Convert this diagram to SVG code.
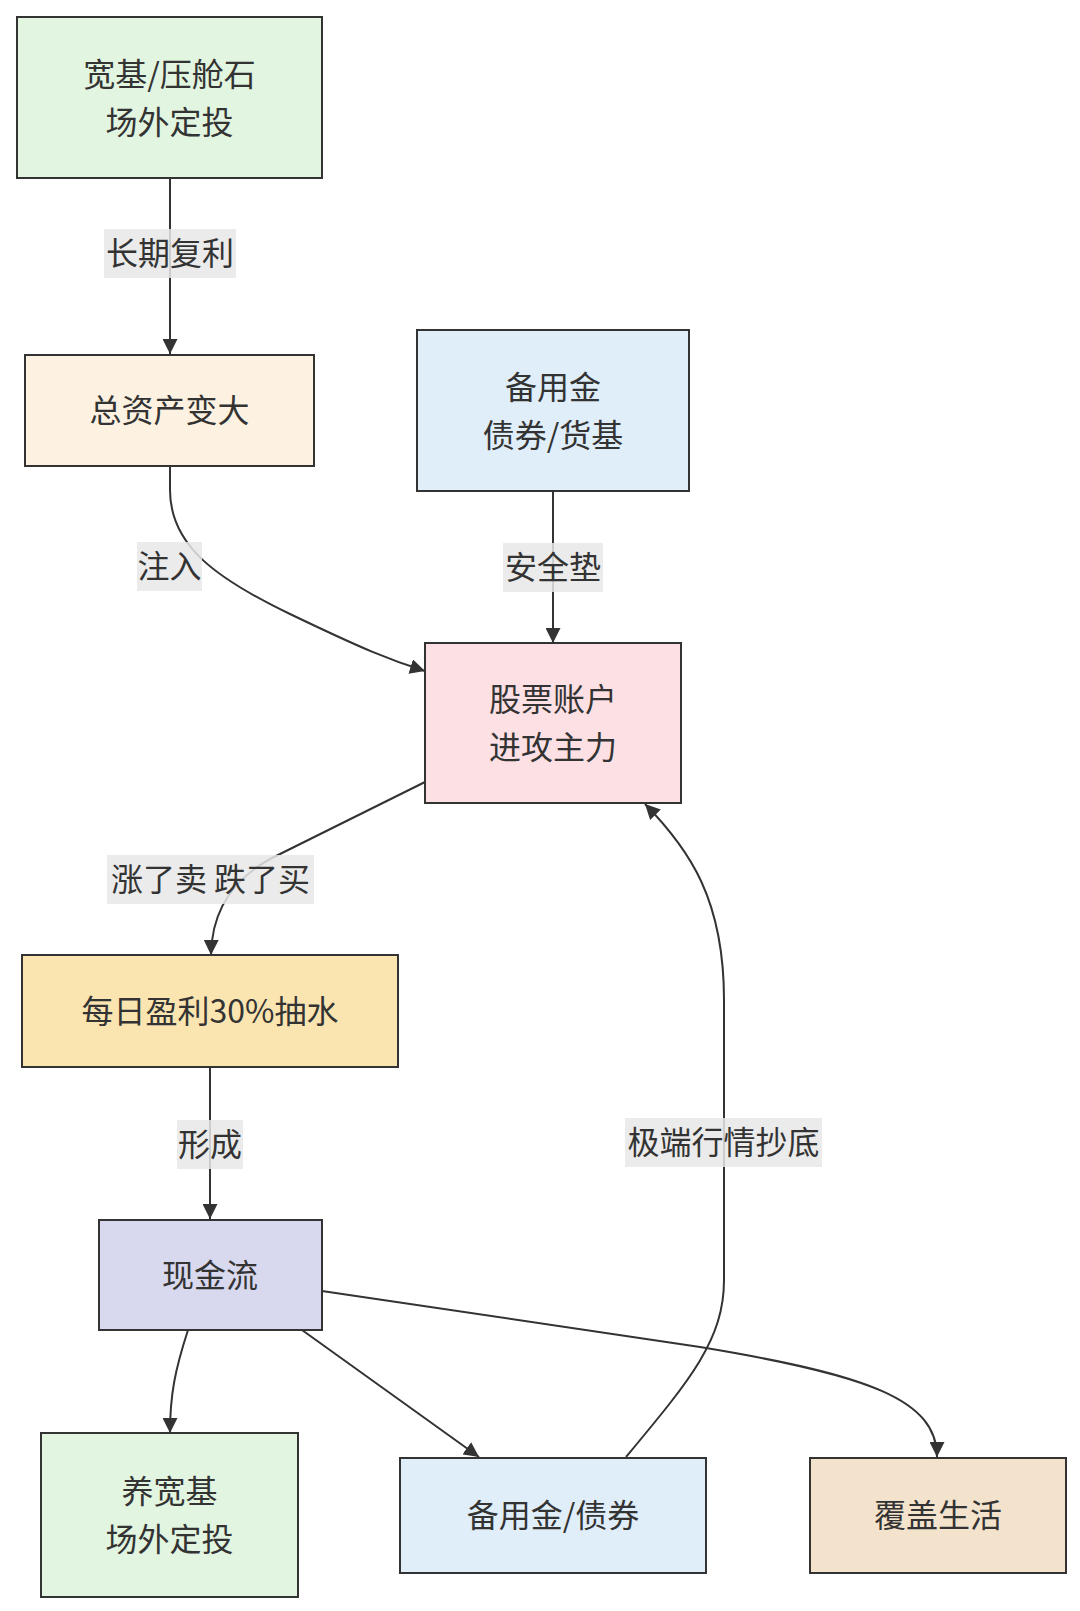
<svg xmlns="http://www.w3.org/2000/svg" width="1080" height="1611" viewBox="0 0 1080 1611">
<style>
.node rect{stroke:#333;stroke-width:2}
text{font-family:"Noto Sans CJK SC","Noto Sans",sans-serif;font-size:32px;fill:#333;text-anchor:middle;dominant-baseline:central}
.edge{fill:none;stroke:#333;stroke-width:2;marker-end:url(#arrow)}
.lbl{fill:#e8e8e8;opacity:0.85}
</style>
<defs>
<marker id="arrow" viewBox="0 0 10 10" refX="10" refY="5" markerWidth="15" markerHeight="15" markerUnits="userSpaceOnUse" orient="auto">
<path d="M0,0 L10,5 L0,10 z" fill="#333"/>
</marker>
</defs>
<rect width="1080" height="1611" fill="#ffffff"/>
<g id="connectors">
<path class="edge" d="M170,178 L170,354"/>
<path class="edge" d="M170,466 V490 C170,545 215,578 290,614 S390,660 425,671"/>
<path class="edge" d="M553,491 L553,643"/>
<path class="edge" d="M425,782 L272,858 Q212,890 211,955"/>
<path class="edge" d="M210,1067 L210,1219"/>
<path class="edge" d="M188,1330 C175,1370 170,1395 170,1433"/>
<path class="edge" d="M302,1330 L479,1457"/>
<path class="edge" d="M322,1291 L700,1347 C870,1375 937,1400 937,1457"/>
<path class="edge" d="M626,1457 C690,1380 724,1340 724,1280 V1000 C724,900 690,850 645,804"/>
</g>
<g id="edge-labels">
<rect class="lbl" x="104" y="229" width="132" height="49"/>
<text x="170" y="251">长期复利</text>
<rect class="lbl" x="137" y="542" width="65" height="49"/>
<text x="169.5" y="564">注入</text>
<rect class="lbl" x="503" y="543" width="100" height="49"/>
<text x="553" y="565">安全垫</text>
<rect class="lbl" x="107" y="855" width="207" height="49"/>
<text x="210.5" y="877">涨了卖 跌了买</text>
<rect class="lbl" x="177" y="1120" width="66" height="49"/>
<text x="210" y="1142">形成</text>
<rect class="lbl" x="625" y="1118" width="197" height="49"/>
<text x="723.5" y="1140">极端行情抄底</text>
</g>
<g id="node-A" class="node">
<rect x="17" y="17" width="305" height="161" fill="#e2f5e0"/>
<text x="169.5" y="72">宽基/压舱石</text>
<text x="169.5" y="120">场外定投</text>
</g>
<g id="node-B" class="node">
<rect x="25" y="355" width="289" height="111" fill="#fdf2e2"/>
<text x="169.5" y="408">总资产变大</text>
</g>
<g id="node-C" class="node">
<rect x="417" y="330" width="272" height="161" fill="#e0eef9"/>
<text x="553" y="385">备用金</text>
<text x="553" y="433">债券/货基</text>
</g>
<g id="node-D" class="node">
<rect x="425" y="643" width="256" height="160" fill="#fde0e4"/>
<text x="553" y="697">股票账户</text>
<text x="553" y="745">进攻主力</text>
</g>
<g id="node-E" class="node">
<rect x="22" y="955" width="376" height="112" fill="#fae5b1"/>
<text x="210" y="1009">每日盈利30%抽水</text>
</g>
<g id="node-F" class="node">
<rect x="99" y="1220" width="223" height="110" fill="#d8d9ee"/>
<text x="210" y="1273">现金流</text>
</g>
<g id="node-G" class="node">
<rect x="41" y="1433" width="257" height="164" fill="#e2f5e0"/>
<text x="169.5" y="1489">养宽基</text>
<text x="169.5" y="1537">场外定投</text>
</g>
<g id="node-H" class="node">
<rect x="400" y="1458" width="306" height="115" fill="#e0eef9"/>
<text x="553" y="1513">备用金/债券</text>
</g>
<g id="node-I" class="node">
<rect x="810" y="1458" width="256" height="115" fill="#f3e3cd"/>
<text x="938" y="1513">覆盖生活</text>
</g>
</svg>
